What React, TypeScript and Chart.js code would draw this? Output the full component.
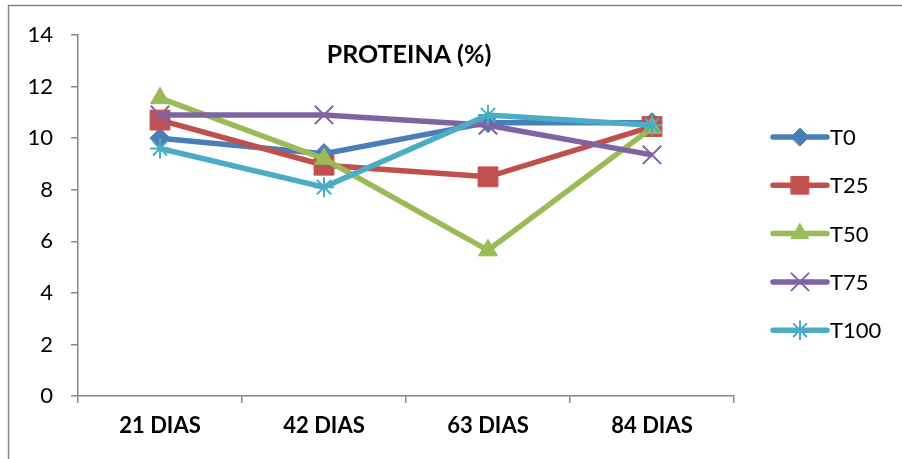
import React, { useEffect, useRef } from "react";
import { Chart, registerables } from "chart.js";
import { drawPoint } from "chart.js/helpers";

Chart.register(...registerables);

const categories = ["21 DIAS", "42 DIAS", "63 DIAS", "84 DIAS"];
const t0 = [10.0, 9.4, 10.6, 10.6];
const t25 = [10.7, 8.95, 8.5, 10.45];
const t50 = [11.55, 9.2, 5.65, 10.4];
const t75 = [10.9, 10.9, 10.5, 9.35];
const t100 = [9.6, 8.1, 10.9, 10.5];
const yTicks = [0, 2, 4, 6, 8, 10, 12, 14];

const FONT = "Lato, 'Open Sans', sans-serif";
const AXIS = "#868686";

const series = [
  { label: "T0", data: t0, color: "#4A7EBB", style: "rectRot", radius: 10, legendRadius: 9 },
  { label: "T25", data: t25, color: "#C0504D", style: "rect", radius: 14, legendRadius: 12.5 },
  { label: "T50", data: t50, color: "#9BBB59", style: "triangle", radius: 11, legendRadius: 10 },
  { label: "T75", data: t75, color: "#8064A2", style: "crossRot", radius: 13, legendRadius: 12 },
  { label: "T100", data: t100, color: "#4BACC6", style: "star", radius: 10, legendRadius: 9 },
];

// Frame, title and right-hand legend drawn directly on the canvas
const decorations = {
  id: "decorations",
  afterDraw(chart: any) {
    const ctx = chart.ctx;
    ctx.save();
    ctx.strokeStyle = AXIS;
    ctx.lineWidth = 1.5;
    ctx.beginPath();
    ctx.moveTo(8.5, chart.height);
    ctx.lineTo(8.5, 5.5);
    ctx.lineTo(chart.width, 5.5);
    ctx.stroke();

    ctx.fillStyle = "#000";
    ctx.font = `bold 25px ${FONT}`;
    ctx.textAlign = "center";
    ctx.textBaseline = "middle";
    ctx.fillText("PROTEINA (%)", 409, 55);

    const x0 = 773;
    const x1 = 827;
    chart.data.datasets.forEach((ds: any, i: number) => {
      const y = 137 + i * 48.3;
      ctx.strokeStyle = ds.borderColor;
      ctx.lineWidth = 5.5;
      ctx.lineCap = "round";
      ctx.beginPath();
      ctx.moveTo(x0, y);
      ctx.lineTo(x1, y);
      ctx.stroke();
      ctx.fillStyle = ds.pointBackgroundColor;
      ctx.strokeStyle = ds.pointBorderColor;
      ctx.lineWidth = ds.pointBorderWidth;
      drawPoint(ctx, { pointStyle: ds.pointStyle, radius: series[i].legendRadius, rotation: 0, borderWidth: ds.pointBorderWidth }, (x0 + x1) / 2, y);
      ctx.fillStyle = "#000";
      ctx.font = `22px ${FONT}`;
      ctx.textAlign = "left";
      ctx.textBaseline = "middle";
      ctx.fillText(ds.label, 830, y + 1);
    });
    ctx.restore();
  },
};

export default function App() {
  const ref = useRef<HTMLCanvasElement | null>(null);

  useEffect(() => {
    if (!ref.current) return;
    const n = series.length;
    const chart = new Chart(ref.current, {
      type: "line",
      data: {
        labels: categories,
        datasets: series.map((s, i) => {
          const thin = s.style === "crossRot" || s.style === "star";
          return {
            label: s.label,
            data: s.data,
            borderColor: s.color,
            backgroundColor: s.color,
            borderWidth: 5.5,
            pointStyle: s.style,
            pointRadius: s.radius,
            pointBackgroundColor: s.color,
            pointBorderColor: s.color,
            pointBorderWidth: thin ? 2 : 1,
            tension: 0,
            order: n - i,
          };
        }),
      },
      options: {
        animation: false,
        responsive: false,
        layout: { padding: { left: 0, top: 35, right: 168, bottom: 0 } },
        plugins: { legend: { display: false }, title: { display: false }, tooltip: { enabled: false } },
        scales: {
          x: {
            offset: true,
            grid: { offset: true, drawOnChartArea: false, drawTicks: true, tickLength: 7, color: AXIS, lineWidth: 1.5 },
            border: { color: AXIS, width: 1.5 },
            ticks: { color: "#000", font: { family: FONT, size: 22, weight: "bold" }, padding: 10 },
            afterFit: (s: any) => { s.height = 63; },
          },
          y: {
            min: 0,
            max: 14,
            afterBuildTicks: (s: any) => { s.ticks = yTicks.map((v) => ({ value: v })); },
            grid: { drawOnChartArea: false, drawTicks: true, tickLength: 7, color: AXIS, lineWidth: 1.5 },
            border: { color: AXIS, width: 1.5 },
            ticks: { color: "#000", font: { family: FONT, size: 22 }, padding: 18 },
            afterFit: (s: any) => { s.width = 78; },
          },
        },
      },
      plugins: [decorations],
    });
    return () => chart.destroy();
  }, []);

  return (
    <div style={{ position: "fixed", left: 0, top: 0, width: 902, height: 459, background: "#fff" }}>
      <canvas ref={ref} width={902} height={459} />
    </div>
  );
}
